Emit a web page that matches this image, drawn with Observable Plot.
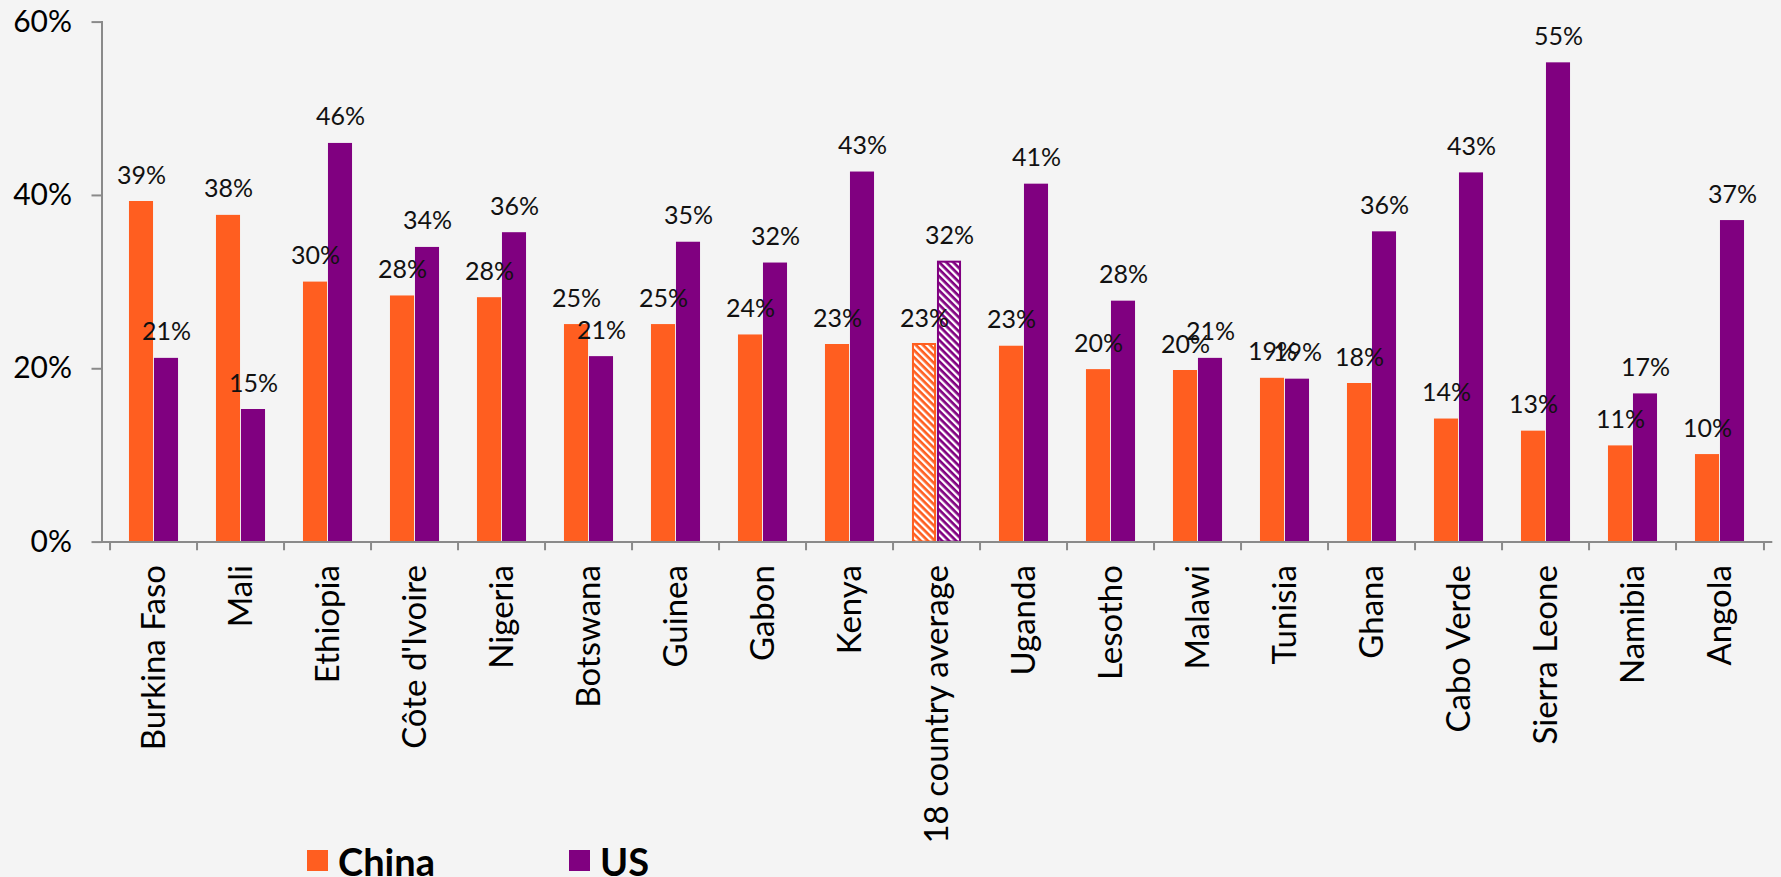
<!DOCTYPE html>
<html>
<head>
<meta charset="utf-8">
<script src="https://cdn.jsdelivr.net/npm/d3@7"></script>
<script src="https://cdn.jsdelivr.net/npm/@observablehq/plot@0.6"></script>
<style>
  html, body { margin: 0; padding: 0; background: #f4f4f4; overflow: hidden; }
  #chart { position: relative; z-index: 1; }
  #chart svg { display: block; overflow: visible; }
  #legend { position: relative; height: 37px; width: 1781px; font-family: Lato, sans-serif; }
  #legend .sw { position: absolute; width: 21px; height: 21px; top: 10px; }
  #legend .lb { position: absolute; top: 2px; font-size: 38px; line-height: 1; font-weight: bold; color: #000; }
</style>
</head>
<body>
<div id="chart"></div>
<div id="legend"></div>
<script>
const countries = ["Burkina Faso","Mali","Ethiopia","Côte d'Ivoire","Nigeria","Botswana","Guinea","Gabon","Kenya","18 country average","Uganda","Lesotho","Malawi","Tunisia","Ghana","Cabo Verde","Sierra Leone","Namibia","Angola"];
const chinaValues = [39.3,37.7,30.0,28.4,28.2,25.1,25.1,23.9,22.8,22.8,22.6,19.9,19.8,18.9,18.3,14.2,12.8,11.1,10.1];
const usValues    = [21.2,15.3,46.0,34.0,35.7,21.4,34.6,32.2,42.7,32.3,41.3,27.8,21.2,18.8,35.8,42.6,55.3,17.1,37.1];
const seriesNames = ["China","US"];
const seriesColors = ["#FF5E20","#800080"];
const yTicks = [0,20,40,60];
const averageLabel = "18 country average";

const rows = [];
countries.forEach((c, i) => {
  rows.push({country: c, series: "China", value: chinaValues[i], avg: c === averageLabel});
  rows.push({country: c, series: "US", value: usValues[i], avg: c === averageLabel});
});

const W = 1781, H = 840;
const mL = 101.5, mR = 8.7, mT = 21.6, mB = H - 541.6;
const step = (W - mL - mR) / countries.length;
const half = step / 2;
const barW = 25;
const [cOrange, cPurple] = seriesColors;
const axisGray = "#8a8a8a";

const sel = (s, avg) => rows.filter(d => d.series === s && d.avg === avg);

const chart = Plot.plot({
  width: W, height: H,
  marginLeft: mL, marginRight: mR, marginTop: mT, marginBottom: mB,
  style: {background: "transparent", fontFamily: "Lato, sans-serif", color: "#000", overflow: "visible"},
  x: {domain: countries, padding: 0, label: null},
  y: {domain: [0, 60], label: null},
  marks: [
    Plot.barY(sel("China", false), {x: "country", y: "value", fill: cOrange, insetLeft: half - barW, insetRight: half}),
    Plot.barY(sel("US", false), {x: "country", y: "value", fill: cPurple, insetLeft: half, insetRight: half - barW}),
    Plot.barY(sel("China", true), {x: "country", y: "value", fill: "url(#hatchChina)", stroke: cOrange, strokeWidth: 2, insetLeft: half - barW + 1, insetRight: half + 1}),
    Plot.barY(sel("US", true), {x: "country", y: "value", fill: "url(#hatchUS)", stroke: cPurple, strokeWidth: 2, insetLeft: half + 1, insetRight: half - barW + 1}),
    Plot.ruleY([0], {stroke: axisGray, strokeWidth: 2}),
    Plot.frame({anchor: "left", stroke: axisGray, strokeWidth: 2}),
    Plot.ruleX(countries, {x: d => d, y1: 0, y2: -1, dx: -half, stroke: axisGray, strokeWidth: 2}),
    Plot.ruleX(countries.slice(-1), {x: d => d, y1: 0, y2: -1, dx: half, stroke: axisGray, strokeWidth: 2}),
    Plot.axisY({ticks: yTicks, tickFormat: d => d + "%", tickSize: 10, tickPadding: 20, fontSize: 30, stroke: axisGray, strokeWidth: 2, strokeOpacity: 1}),
    Plot.axisX({tickSize: 0, tickRotate: -90, tickPadding: 23, fontSize: 33}),
    Plot.text(sel("China", false).concat(sel("China", true)), {x: "country", y: "value", text: d => Math.round(d.value) + "%", dx: -barW / 2, dy: -18, lineAnchor: "bottom", fontSize: 25, fill: "#111"}),
    Plot.text(sel("US", false).concat(sel("US", true)), {x: "country", y: "value", text: d => Math.round(d.value) + "%", dx: barW / 2, dy: -18, lineAnchor: "bottom", fontSize: 25, fill: "#111"})
  ]
});

const ns = "http://www.w3.org/2000/svg";
const defs = document.createElementNS(ns, "defs");
[["hatchChina", cOrange], ["hatchUS", cPurple]].forEach(([id, col]) => {
  const p = document.createElementNS(ns, "pattern");
  p.setAttribute("id", id);
  p.setAttribute("patternUnits", "userSpaceOnUse");
  p.setAttribute("width", "5");
  p.setAttribute("height", "5");
  p.setAttribute("patternTransform", "rotate(-45)");
  const r = document.createElementNS(ns, "rect");
  r.setAttribute("width", "5"); r.setAttribute("height", "5"); r.setAttribute("fill", col);
  const l = document.createElementNS(ns, "rect");
  l.setAttribute("x", "0"); l.setAttribute("y", "0"); l.setAttribute("width", "2.3"); l.setAttribute("height", "5"); l.setAttribute("fill", "#fff");
  p.appendChild(r); p.appendChild(l);
  defs.appendChild(p);
});
chart.insertBefore(defs, chart.firstChild);
document.getElementById("chart").appendChild(chart);

const legend = document.getElementById("legend");
const legendX = [[307, 338], [569, 600]];
seriesNames.forEach((name, i) => {
  const sw = document.createElement("div");
  sw.className = "sw"; sw.style.left = legendX[i][0] + "px"; sw.style.background = seriesColors[i];
  const lb = document.createElement("div");
  lb.className = "lb"; lb.style.left = legendX[i][1] + "px"; lb.textContent = name;
  legend.appendChild(sw); legend.appendChild(lb);
});
</script>
</body>
</html>
